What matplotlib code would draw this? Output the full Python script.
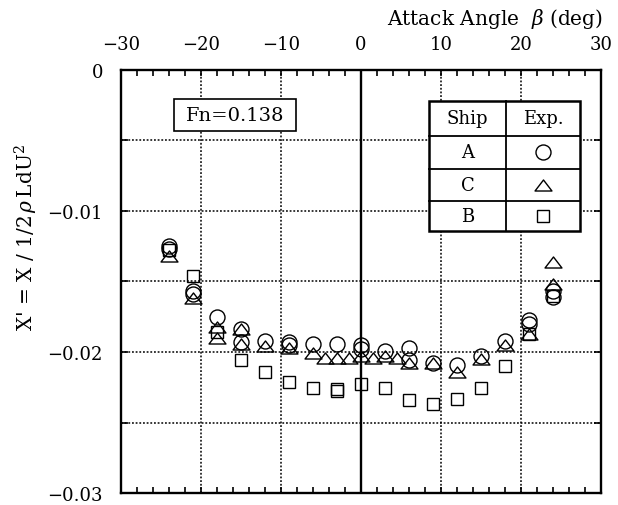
import matplotlib
matplotlib.use("Agg")
import matplotlib.pyplot as plt
from matplotlib.patches import Rectangle
from matplotlib.path import Path
import numpy as np

plt.rcParams['font.family'] = ['DejaVu Serif']
plt.rcParams['mathtext.fontset'] = 'dejavuserif'

# ---------------- data ----------------
angles = [-24, -21, -18, -15, -12, -9, -6, -3, 0, 3, 6, 9, 12, 15, 18, 21, 24]
ship_A = [-0.0125, -0.0159, -0.0175, -0.0184, -0.0192, -0.0193, -0.0194, -0.0194, -0.0195,
          -0.0199, -0.0197, -0.0208, -0.0209, -0.0203, -0.0192, -0.0177, -0.0161]
ship_C = [-0.0132, -0.0162, -0.0190, -0.0194, -0.0196, -0.0197, -0.0201, -0.0204, -0.0203,
          -0.0203, -0.0208, -0.0208, -0.0214, -0.0205, -0.0195, -0.0187, -0.0152]
ship_B = [-0.0128, -0.0146, -0.0186, -0.0206, -0.0214, -0.0221, -0.02255, -0.0226, -0.0223,
          -0.02255, -0.0234, -0.0237, -0.0233, -0.02255, -0.0210, -0.0187, -0.0160]

# repeated runs
angles_A2 = [-24, -21, -15, -9, 0, 6, 21, 24]
ship_A2 = [-0.0127, -0.0157, -0.0193, -0.0195, -0.0198, -0.0206, -0.0180, -0.0157]
angles_C2 = [-18, -15, -4.5, -1.5, 1.5, 4.5, 24]
ship_C2 = [-0.0182, -0.0184, -0.0204, -0.0204, -0.0204, -0.0204, -0.0136]
angles_B2 = [-3]
ship_B2 = [-0.0228]

fn_label = "Fn=0.138"
table_rows = [("Ship", "Exp."), ("A", "o"), ("C", "tri"), ("B", "s")]

# ---------------- figure ----------------
fig = plt.figure(figsize=(6.18, 5.06), dpi=100)
ax = fig.add_axes([0.1958, 0.0237, 0.777, 0.836])
ax.set_xlim(-30, 30)
ax.set_ylim(-0.03, 0)

tri = Path([(-1, -0.65), (1, -0.65), (0, 0.65), (-1, -0.65)],
           [Path.MOVETO, Path.LINETO, Path.LINETO, Path.CLOSEPOLY])

mk = dict(linestyle='none', markerfacecolor='none', markeredgecolor='black',
          markeredgewidth=1.0, zorder=5)
ax.plot(angles, ship_A, marker='o', markersize=10.8, **mk)
ax.plot(angles_A2, ship_A2, marker='o', markersize=10.8, **mk)
ax.plot(angles, ship_C, marker=tri, markersize=12.2, **mk)
ax.plot(angles_C2, ship_C2, marker=tri, markersize=12.2, **mk)
ax.plot(angles, ship_B, marker='s', markersize=8.6, **mk)
ax.plot(angles_B2, ship_B2, marker='s', markersize=8.6, **mk)

# grid
for xv in [-20, -10, 10, 20]:
    ax.axvline(xv, color='black', lw=1.1, linestyle=(0, (1.2, 1.2)), zorder=1)
for yv in [-0.005, -0.01, -0.015, -0.02, -0.025]:
    ax.axhline(yv, color='black', lw=1.1, linestyle=(0, (1.2, 1.2)), zorder=1)
ax.axvline(0, color='black', lw=1.7, zorder=2)

# ticks
ax.tick_params(axis='x', which='both', direction='in', top=True, bottom=True,
               labeltop=True, labelbottom=False, labelsize=13, pad=12)
ax.tick_params(axis='x', which='major', length=4, width=1.2)
ax.tick_params(axis='x', which='minor', length=4, width=1.2)
ax.tick_params(axis='y', which='both', direction='in', left=True, right=True,
               labelleft=True, labelright=False, labelsize=13, pad=13)
ax.tick_params(axis='y', which='major', length=5, width=1.2)
ax.tick_params(axis='y', which='minor', length=5, width=1.2)
ax.set_xticks([-30, -20, -10, 0, 10, 20, 30])
ax.set_xticks(np.arange(-28, 30, 2), minor=True)
ax.set_yticks([-0.03, -0.02, -0.01, 0])
ax.set_yticklabels(['\u22120.03', '\u22120.02', '\u22120.01', '0'])
ax.set_xticklabels(['\u221230', '\u221220', '\u221210', '0', '10', '20', '30'])
ax.set_yticks([-0.025, -0.015, -0.005], minor=True)
for s in ax.spines.values():
    s.set_linewidth(1.7)

# Fn box
ax.add_patch(Rectangle((-23.4, -0.00431), 15.3, 0.00225, facecolor='white',
                       edgecolor='black', lw=1.2, zorder=3))
ax.text(-15.75, -0.00318, fn_label, ha='center', va='center', fontsize=14, zorder=4)

# legend table
xs = [8.54, 18.09, 27.375]
ys = [-0.00222, -0.00466, -0.00702, -0.00927, -0.0114]
ax.add_patch(Rectangle((xs[0], ys[-1]), xs[2] - xs[0], ys[0] - ys[-1], facecolor='white',
                       edgecolor='black', lw=1.8, zorder=3))
for yv in ys[1:-1]:
    ax.plot([xs[0], xs[2]], [yv, yv], color='black', lw=1.3, zorder=4)
ax.plot([xs[1], xs[1]], [ys[0], ys[-1]], color='black', lw=1.3, zorder=4)
marker_map = {"o": ('o', 10.8), "tri": (tri, 12.2), "s": ('s', 9.0)}
for i, (name, sym) in enumerate(table_rows):
    yc = (ys[i] + ys[i + 1]) / 2
    ax.text((xs[0] + xs[1]) / 2, yc, name, ha='center', va='center', fontsize=13, zorder=5)
    if sym in marker_map:
        m, ms = marker_map[sym]
        ax.plot([(xs[1] + xs[2]) / 2], [yc], marker=m, markersize=ms, **mk)
    else:
        ax.text((xs[1] + xs[2]) / 2, yc, sym, ha='center', va='center', fontsize=13, zorder=5)

# labels
fig.text(0.975, 0.962, r"Attack Angle  $\beta$ (deg)", ha='right', va='center', fontsize=14.5)
fig.text(0.043, 0.53, r"X' = X / 1/2$\,\rho\,$LdU$^2$", rotation=90, ha='center',
         va='center', fontsize=14.5)

fig.savefig("out.png", dpi=100)
